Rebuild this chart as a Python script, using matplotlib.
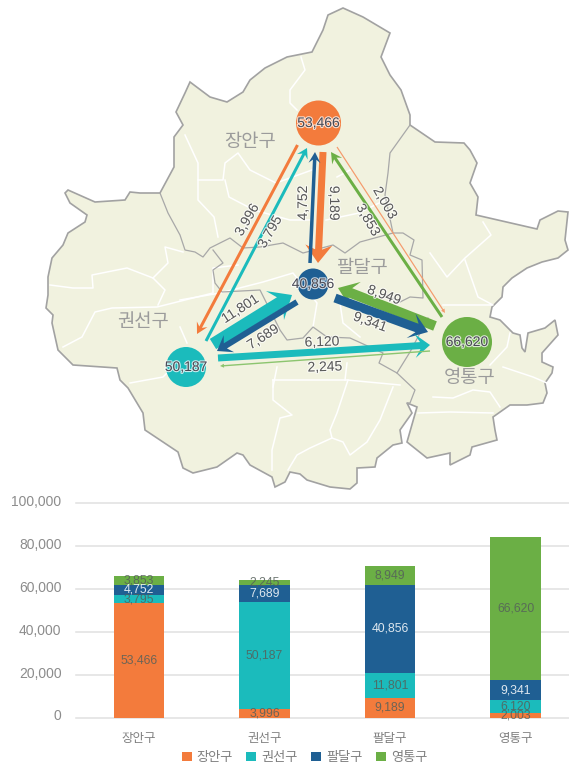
import matplotlib
matplotlib.use("Agg")
import matplotlib.pyplot as plt
import matplotlib.patheffects as pe
from matplotlib.patches import Circle, FancyArrow, Polygon, Patch
from matplotlib.transforms import ScaledTranslation

plt.rcParams['font.family'] = ['Liberation Sans', 'Noto Sans CJK KR']

# chart values
districts = ["장안구", "권선구", "팔달구", "영통구"]
jangan = [53466, 3996, 9189, 2003]
gwonseon = [3795, 50187, 11801, 6120]
paldal = [4752, 7689, 40856, 9341]
yeongtong = [3853, 2245, 8949, 66620]
y_ticks = [0, 20000, 40000, 60000, 80000, 100000]

# flow values on the map
flow_values = [3996, 3795, 9189, 4752, 3853, 2003, 11801, 7689, 8949, 9341, 6120, 2245]

# colours
ORANGE = "#F37B3C"
TEAL = "#1BBBBC"
BLUE = "#1F5F93"
GREEN = "#6BAF45"
series_colors = [ORANGE, TEAL, BLUE, GREEN]

# map background, traced in picture pixels
outline = [(328, 15), (343, 8), (363, 17), (390, 33), (381, 57), (390, 75), (401, 90), (410, 115),
           (410, 125), (435, 142), (464, 143), (470, 150), (477, 163), (470, 183), (478, 197), (476, 215),
           (537, 229), (540, 220), (558, 211), (568, 212), (565, 240), (568, 250), (558, 258), (542, 262),
           (527, 268), (512, 278), (503, 287), (502, 297), (492, 307), (490, 317), (500, 320), (513, 333),
           (520, 335), (522, 348), (525, 352), (528, 333), (545, 328), (555, 320), (558, 335), (542, 353),
           (542, 362), (553, 367), (552, 373), (545, 383), (547, 393), (543, 403), (527, 405), (510, 405),
           (493, 417), (495, 430), (497, 440), (472, 447), (470, 455), (450, 465), (450, 453), (427, 458),
           (407, 442), (417, 407), (407, 403), (412, 413), (400, 430), (402, 443), (393, 445), (377, 458),
           (375, 467), (357, 468), (357, 483), (350, 489), (330, 487), (307, 480), (300, 474), (290, 472),
           (285, 482), (275, 487), (272, 477), (250, 465), (243, 455), (237, 453), (217, 467), (193, 473),
           (183, 468), (178, 452), (145, 430), (143, 413), (128, 388), (120, 380), (117, 368), (73, 365),
           (58, 350), (52, 323), (53, 315), (46, 308), (48, 295), (48, 277), (52, 258), (63, 245),
           (68, 233), (85, 222), (87, 215), (70, 203), (65, 193), (68, 190), (95, 202), (125, 200),
           (130, 192), (140, 193), (160, 193), (174, 167), (174, 137), (183, 125), (176, 112), (185, 93),
           (190, 82), (210, 97), (227, 102), (243, 92), (250, 80), (265, 68), (287, 57), (312, 52),
           (323, 30)]

white_lines = [
    [(50, 285), (73, 288), (93, 288), (92, 275), (127, 268), (153, 278), (165, 290), (158, 305)],
    [(63, 347), (82, 337), (95, 312), (112, 308), (157, 307), (213, 293), (213, 268), (238, 265)],
    [(153, 278), (168, 263), (165, 247), (183, 252)],
    [(130, 383), (163, 377), (180, 360)],
    [(180, 327), (187, 343)],
    [(301, 57), (305, 70), (290, 90), (290, 103), (297, 110)],
    [(185, 135), (198, 163), (198, 180), (223, 180), (225, 163), (238, 153), (250, 170), (276, 183), (312, 170)],
    [(198, 180), (198, 200), (214, 217), (218, 237)],
    [(225, 180), (229, 197), (254, 210), (290, 220), (312, 220)],
    [(326, 220), (359, 213), (385, 200)],
    [(337, 177), (350, 170)],
    [(483, 222), (491, 235), (465, 258), (447, 277), (430, 253)],
    [(465, 260), (478, 297), (493, 305), (443, 305)],
    [(510, 333), (507, 347), (490, 365)],
    [(503, 367), (533, 377), (547, 383)],
    [(433, 397), (453, 398), (473, 390), (490, 392), (500, 407)],
    [(418, 413), (450, 412), (493, 413)],
    [(273, 380), (273, 400), (292, 415), (280, 418), (272, 450), (272, 470)],
    [(273, 380), (347, 380), (400, 385)],
    [(348, 380), (337, 413), (330, 430), (332, 438), (310, 448), (297, 455), (288, 470)],
    [(332, 438), (343, 442), (350, 455), (367, 442), (380, 420), (393, 387)],
    [(180, 300), (220, 293), (263, 282), (293, 273), (317, 303), (313, 327)],
    [(340, 303), (343, 323), (360, 337)],
    [(277, 367), (273, 387)],
    [(347, 363), (345, 380)],
]

gray_lines = [
    [(160, 193), (168, 213), (180, 235), (185, 250), (195, 252), (203, 257), (210, 248), (230, 238),
     (243, 248), (260, 247), (283, 243), (303, 253), (333, 245), (345, 253), (360, 242), (393, 233),
     (403, 233), (414, 240), (410, 255), (422, 260), (423, 298), (410, 297), (400, 302), (387, 295)],
    [(410, 125), (390, 153), (388, 173), (385, 195), (393, 233)],
    [(213, 250), (223, 263), (213, 270), (215, 283), (222, 292), (260, 290), (280, 330), (287, 340),
     (303, 338), (313, 327), (327, 337), (350, 338), (383, 353), (379, 363), (397, 373), (415, 390),
     (410, 403), (407, 403)],
    [(397, 373), (410, 352), (428, 318)],
]

# nodes: centre and radius in pixels
node_values = [53466, 50187, 40856, 66620]
node_xy = [(318.5, 123), (186, 367), (313, 284), (467, 342)]
node_r = [22.5, 20, 15.5, 25]

# arrows: tail, tip, shaft width, head width, head length
arrow_tail = [(297.5, 145), (206, 341), (323, 152), (310, 263), (442, 317), (337, 147),
              (213, 344), (297, 302), (435, 326), (335, 298), (218, 358), (430, 351)]
arrow_tip = [(197, 334), (307, 148), (318, 263), (315, 152), (331, 152), (445, 313),
             (292, 295), (217, 351), (338, 288), (428, 332), (430, 345), (220, 366)]
arrow_width = [3, 3, 7, 3.5, 3, 1.2, 12, 6, 10, 9, 7, 1.4]
arrow_head = [12, 12, 27, 12, 12, 4, 34, 20, 28, 26, 24, 4]
arrow_hlen = [11, 10, 18, 11, 11, 4, 20, 14, 19, 18, 15, 4]
arrow_color = [ORANGE, TEAL, ORANGE, BLUE, GREEN, "#F59A6C", TEAL, BLUE, GREEN, BLUE, TEAL, "#8CC56F"]
arrow_overhang = [0.3, 0.3, 0.25, 0.3, 0.3, 0, 0.3, 0.3, 0.3, 0.35, 0.35, 0]

# where the flow numbers sit
label_xy = [(247, 220), (270, 232), (334, 203), (303, 203), (368, 220), (385, 203),
            (240, 309), (263, 337), (384, 295), (370, 322), (322, 342), (325, 367)]
label_rot = [60, 60, -90, 90, -60, -60, 33, 33, -20, -20, 2, 2]

region_xy = [(250, 142), (143, 323), (362, 268), (470, 378)]

fig = plt.figure(figsize=(5.69, 7.66), dpi=100)
fig.patch.set_facecolor("white")

# --- map part ---
ax_map = fig.add_axes([0, 0, 1, 1])
ax_map.set_xlim(0, 569)
ax_map.set_ylim(766, 0)
ax_map.axis("off")

ax_map.add_patch(Polygon(outline, closed=True, facecolor="#F1F2DF", edgecolor="#A2A2A2", lw=1.2, zorder=1))
for line in white_lines:
    ax_map.plot([p[0] for p in line], [p[1] for p in line], color="white", lw=1.1, zorder=2)
for line in gray_lines:
    ax_map.plot([p[0] for p in line], [p[1] for p in line], color="#A8A8A8", lw=0.9, zorder=2)

for xy, name in zip(region_xy, districts):
    ax_map.text(xy[0], xy[1], name, fontsize=13.5, color="#9B9B9B", ha="center", va="center", zorder=3)

halo = [pe.withStroke(linewidth=1.6, foreground="white", alpha=0.7)]

for i in range(len(flow_values)):
    dx = arrow_tip[i][0] - arrow_tail[i][0]
    dy = arrow_tip[i][1] - arrow_tail[i][1]
    ax_map.add_patch(FancyArrow(arrow_tail[i][0], arrow_tail[i][1], dx, dy, width=arrow_width[i],
                                head_width=arrow_head[i], head_length=arrow_hlen[i],
                                length_includes_head=True, overhang=arrow_overhang[i],
                                facecolor=arrow_color[i], edgecolor="none", zorder=4))

for i, val in enumerate(flow_values):
    ax_map.text(label_xy[i][0], label_xy[i][1], f"{val:,}", fontsize=10, color="#5A5A5A", rotation=label_rot[i],
                rotation_mode="anchor", ha="center", va="center", zorder=6, path_effects=halo)

for i, val in enumerate(node_values):
    ax_map.add_patch(Circle(node_xy[i], node_r[i], facecolor=series_colors[i], edgecolor="none", zorder=5))
    ax_map.text(node_xy[i][0], node_xy[i][1], f"{val:,}", fontsize=10, color="#4A4A55", ha="center", va="center",
                zorder=6, path_effects=[pe.withStroke(linewidth=1.6, foreground="white", alpha=0.75)])

# --- stacked bars ---
ax = fig.add_axes([76 / 569, (766 - 717.7) / 766, (569 - 76) / 569, 214.4 / 766])
ax.patch.set_alpha(0)
x = list(range(len(districts)))
series = [jangan, gwonseon, paldal, yeongtong]
bottom = [0, 0, 0, 0]
for s, vals in enumerate(series):
    ax.bar(x, vals, width=0.4, bottom=bottom, color=series_colors[s], zorder=3)
    for i, v in enumerate(vals):
        txt = "white" if s == 2 else "#55605A"
        ax.text(x[i], bottom[i] + v / 2, f"{v:,}", fontsize=8.8, color=txt, ha="center", va="center",
                alpha=0.85, zorder=4)
    bottom = [b + v for b, v in zip(bottom, vals)]

ax.set_xlim(-0.502, 3.426)
ax.set_ylim(0, 100000)
ax.set_yticks(y_ticks)
ax.set_yticklabels([f"{t:,}" for t in y_ticks], fontsize=10, color="#8C8C8C")
ax.set_xticks(x)
ax.set_xticklabels(districts, fontsize=9, color="#7F7F7F")
ax.tick_params(axis="both", length=0)
ax.tick_params(axis="y", pad=10.5)
ax.tick_params(axis="x", pad=11)
ax.grid(axis="y", color="#E0E0E0", lw=1.1, zorder=0)
ax.set_axisbelow(True)
for sp in ax.spines.values():
    sp.set_visible(False)
for gl in ax.get_ygridlines():
    gl.set_clip_on(False)
# tick numbers sit a little above their grid lines
for lab in ax.get_yticklabels():
    lab.set_transform(lab.get_transform() + ScaledTranslation(0, 2 / 72, fig.dpi_scale_trans))

handles = [Patch(facecolor=c, label=n) for c, n in zip(series_colors, districts)]
fig.legend(handles=handles, loc="center", bbox_to_anchor=(304.5 / 569, (766 - 758) / 766), ncol=4, frameon=False,
           fontsize=9.5, labelcolor="#7F7F7F", handlelength=0.75, handleheight=0.75, handletextpad=0.4,
           columnspacing=1.0, borderpad=0, borderaxespad=0)

fig.savefig("out.png", dpi=100)
